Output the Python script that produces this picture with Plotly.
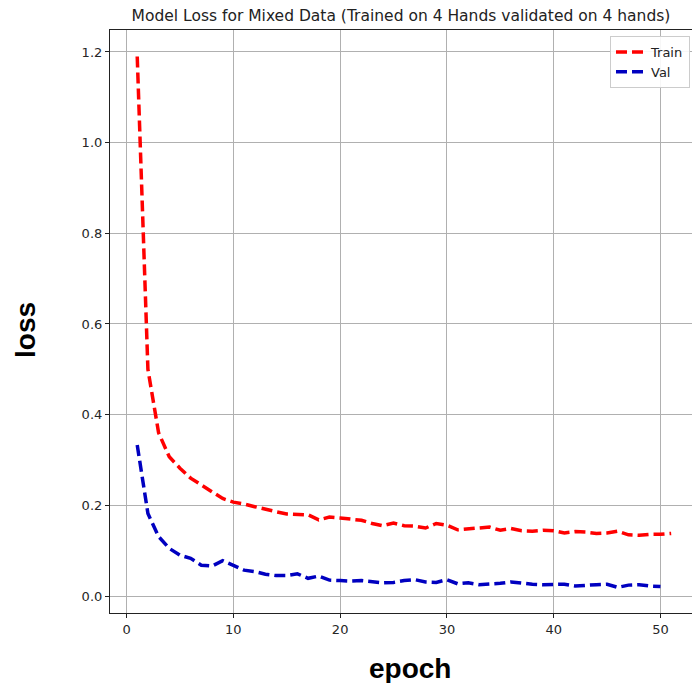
import plotly.graph_objects as go

epochs = list(range(1, 52))
train_loss = [1.19, 0.50, 0.36, 0.307, 0.282, 0.26, 0.245, 0.23, 0.215, 0.207,
              0.203, 0.197, 0.191, 0.186, 0.181, 0.180, 0.179, 0.168, 0.174, 0.172,
              0.169, 0.167, 0.160, 0.155, 0.161, 0.155, 0.154, 0.150, 0.160, 0.156,
              0.146, 0.148, 0.149, 0.152, 0.145, 0.149, 0.144, 0.143, 0.145, 0.144,
              0.139, 0.142, 0.141, 0.138, 0.139, 0.143, 0.135, 0.134, 0.136, 0.136,
              0.138]
val_loss = [0.333, 0.182, 0.131, 0.105, 0.090, 0.083, 0.068, 0.066, 0.078, 0.068,
            0.057, 0.054, 0.048, 0.045, 0.045, 0.049, 0.039, 0.044, 0.035, 0.034,
            0.033, 0.034, 0.032, 0.029, 0.030, 0.034, 0.036, 0.031, 0.030, 0.036,
            0.027, 0.029, 0.025, 0.026, 0.028, 0.031, 0.028, 0.026, 0.025, 0.025,
            0.026, 0.022, 0.024, 0.025, 0.026, 0.019, 0.024, 0.025, 0.022, 0.021]
val_epochs = epochs[:len(val_loss)]

x_ticks = [0, 10, 20, 30, 40, 50]
y_ticks = [0.0, 0.2, 0.4, 0.6, 0.8, 1.0, 1.2]

W, H = 692, 683
L, R, T, B = 110, 0, 30, 70
pw, ph = W - L - R, H - T - B


def px_to_paper(px, py):
    return (px - L) / pw, (H - B - py) / ph


fig = go.Figure()
fig.add_trace(go.Scatter(x=epochs, y=train_loss, mode="lines", name="Train",
                         line=dict(color="#ff0000", width=3.5, dash="11px,5px")))
fig.add_trace(go.Scatter(x=val_epochs, y=val_loss, mode="lines", name="Val",
                         line=dict(color="#0000c0", width=3.5, dash="11px,5px")))

tickfont = dict(family="DejaVu Sans", size=13, color="#262626")
ex, ey = px_to_paper(410, 668)
lx, ly = px_to_paper(25, 330)
gx, gy = px_to_paper(690, 36)

fig.update_layout(
    width=W, height=H,
    margin=dict(l=L, r=R, t=T, b=B),
    plot_bgcolor="white", paper_bgcolor="white",
    title=dict(text="Model Loss for Mixed Data (Trained on 4 Hands validated on 4 hands)",
               x=0.5, xref="paper", xanchor="center", y=1 - 16 / H, yref="container",
               yanchor="middle", font=dict(family="DejaVu Sans", size=15.5, color="#222222")),
    showlegend=True,
    legend=dict(x=gx, y=gy, xanchor="right", yanchor="top",
                bgcolor="rgba(255,255,255,0.9)", bordercolor="#cccccc", borderwidth=1,
                font=dict(family="DejaVu Sans", size=13, color="#222222"),
                itemwidth=30, tracegroupgap=0),
    xaxis=dict(range=[-1.55, 52.95], tickvals=x_ticks, ticktext=[str(v) for v in x_ticks],
               showgrid=True, gridcolor="#b0b0b0", gridwidth=1, zeroline=False,
               showline=True, linecolor="#222222", linewidth=1.2, mirror=True,
               ticks="outside", ticklen=4, tickcolor="#222222", tickfont=tickfont),
    yaxis=dict(range=[-0.0375, 1.2485], tickvals=y_ticks, ticktext=[f"{v:.1f}" for v in y_ticks],
               showgrid=True, gridcolor="#b0b0b0", gridwidth=1, zeroline=False,
               showline=True, linecolor="#222222", linewidth=1.2,
               ticks="outside", ticklen=4, tickcolor="#222222", tickfont=tickfont),
    annotations=[
        dict(text="<b>epoch</b>", x=ex, y=ey, xref="paper", yref="paper",
             xanchor="center", yanchor="middle", showarrow=False,
             font=dict(family="Liberation Sans", size=28, color="black")),
        dict(text="<b>loss</b>", x=lx, y=ly, xref="paper", yref="paper",
             xanchor="center", yanchor="middle", showarrow=False, textangle=-90,
             font=dict(family="Liberation Sans", size=28, color="black")),
    ],
)

fig.write_html("out.html")
